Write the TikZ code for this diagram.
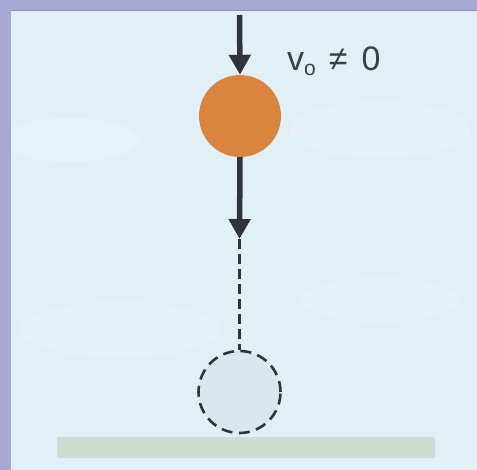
\documentclass[tikz,border=0pt]{standalone}
\usepackage{fontspec}
\setmainfont{Liberation Sans}
\usetikzlibrary{arrows.meta}
\definecolor{bgblue}{HTML}{E1F0F7}
\definecolor{frame}{HTML}{A9A8D5}
\definecolor{frameline}{HTML}{8E90C2}
\definecolor{ballorange}{HTML}{DA853F}
\definecolor{arrowdark}{HTML}{2E343A}
\definecolor{ghostfill}{HTML}{D9E8EF}
\definecolor{groundcol}{HTML}{CFDCD1}
\definecolor{textcol}{HTML}{3A4047}
\tikzset{
  vecarrow/.style={draw=arrowdark, line width=5.5pt, -{Triangle[width=21pt,length=20pt]}},
  ballnode/.style={circle, fill=ballorange, minimum size=82pt, inner sep=0pt},
  ghostnode/.style={circle, draw=arrowdark, fill=ghostfill, line width=2.6pt, dash pattern=on 11pt off 6.5pt, minimum size=82pt, inner sep=0pt},
  pathline/.style={draw=arrowdark, line width=2.6pt, dash pattern=on 10pt off 5pt},
  groundnode/.style={fill=groundcol, minimum width=378pt, minimum height=21pt, inner sep=0pt},
}
\begin{document}
\begin{tikzpicture}[x=1pt,y=-1pt]
\useasboundingbox (0,0) rectangle (477,470);
% frame and background
\fill[frame] (0,0) rectangle (477,470);
\fill[bgblue] (11,11) rectangle (477,470);
\draw[frameline, line width=1.5pt] (11,10.5) -- (477,10.5);
\draw[frameline!80, line width=1pt] (10.5,11) -- (10.5,470);
% faint cloud texture
\begin{scope}
\clip (11,11) rectangle (477,470);
\fill[white, opacity=0.22] (70,140) ellipse (70 and 22);
\fill[white, opacity=0.18] (380,130) ellipse (90 and 28);
\fill[white, opacity=0.18] (120,330) ellipse (100 and 28);
\fill[white, opacity=0.18] (380,300) ellipse (80 and 22);
\end{scope}
% ground
\node[groundnode] (ground) at (246,447.5) {};
% objects
\node[ballnode] (ball) at (240,116) {};
\node[ghostnode] (ghost) at (239.5,392) {};
\coordinate (start) at (239.5,15);
\coordinate (tip) at (239.5,239);
\draw[vecarrow] (start) -- (ball.north);
\draw[vecarrow] (ball.south) -- (tip);
\draw[pathline] (tip) -- (ghost.north);
\node[text=textcol, anchor=base west, font=\fontsize{34}{40}\selectfont, inner sep=0pt] (label) at (287,71) {v\raisebox{-5pt}{\fontsize{21}{24}\selectfont o}\hspace{13pt}≠\hspace{14pt}0};
\end{tikzpicture}
\end{document}
